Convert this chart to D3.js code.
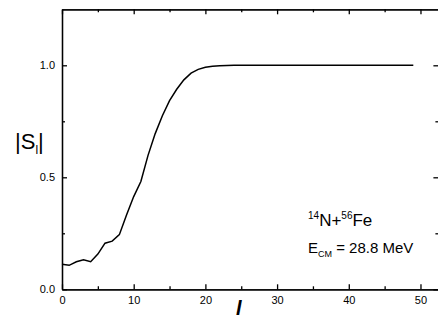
<!DOCTYPE html>
<html>
<head>
<meta charset="utf-8">
<script src="https://cdn.jsdelivr.net/npm/d3@7"></script>
<style>
  body { margin: 0; background: #fff; }
  svg { display: block; font-family: "Liberation Sans", Arial, sans-serif; }
  .axis path, .axis line { stroke: #000; stroke-width: 1.3; }
  .axis text { font-size: 11px; fill: #000; font-family: "Liberation Sans", Arial, sans-serif; }
</style>
</head>
<body>
<svg width="438" height="321"></svg>
<script>
// partial wave l and modulus of S-matrix |S_l|
var lValues = [0, 1, 2, 3, 4, 5, 6, 7, 8, 9, 10, 11, 12, 13, 14, 15, 16, 17, 18, 19,
  20, 21, 22, 23, 24, 25, 26, 27, 28, 29, 30, 31, 32, 33, 34, 35, 36, 37, 38, 39,
  40, 41, 42, 43, 44, 45, 46, 47, 48, 49];
var sValues = [0.112, 0.107, 0.123, 0.132, 0.123, 0.157, 0.206, 0.215, 0.244, 0.332,
  0.414, 0.481, 0.598, 0.695, 0.775, 0.842, 0.893, 0.935, 0.965, 0.982,
  0.991, 0.996, 0.998, 0.999, 1.0, 1.0, 1.0, 1.0, 1.0, 1.0,
  1.0, 1.0, 1.0, 1.0, 1.0, 1.0, 1.0, 1.0, 1.0, 1.0,
  1.0, 1.0, 1.0, 1.0, 1.0, 1.0, 1.0, 1.0, 1.0, 1.0];

var xMajor = [0, 10, 20, 30, 40, 50];
var xMinor = [5, 15, 25, 35, 45];
var yMajor = [0, 0.5, 1.0];
var yMinor = [0.25, 0.75];

var svg = d3.select("svg");
var padL = 62, padT = 9.3, padR = 438.4, padB = 289.3;

var x = d3.scaleLinear().domain([0, 52.5]).range([padL, padR]);
var y = d3.scaleLinear().domain([0, 1.25]).range([padB, padT]);

// frame + major ticks (all pointing inward)
svg.append("g").attr("class", "axis")
  .attr("transform", "translate(0," + padB + ")")
  .call(d3.axisBottom(x).tickValues(xMajor).tickSizeInner(-5).tickSizeOuter(0).tickPadding(7).tickFormat(d3.format("d")));
svg.append("g").attr("class", "axis")
  .attr("transform", "translate(0," + padT + ")")
  .call(d3.axisTop(x).tickValues(xMajor).tickSizeInner(-5).tickSizeOuter(0).tickFormat(""));
svg.append("g").attr("class", "axis")
  .attr("transform", "translate(" + padL + ",0)")
  .call(d3.axisLeft(y).tickValues(yMajor).tickSizeInner(-5).tickSizeOuter(0).tickPadding(7).tickFormat(d3.format(".1f")));
svg.append("g").attr("class", "axis")
  .attr("transform", "translate(" + padR + ",0)")
  .call(d3.axisRight(y).tickValues(yMajor).tickSizeInner(-5).tickSizeOuter(0).tickFormat(""));

// minor ticks
svg.append("g").attr("class", "axis")
  .attr("transform", "translate(0," + padB + ")")
  .call(d3.axisBottom(x).tickValues(xMinor).tickSizeInner(-3).tickSizeOuter(0).tickFormat(""));
svg.append("g").attr("class", "axis")
  .attr("transform", "translate(0," + padT + ")")
  .call(d3.axisTop(x).tickValues(xMinor).tickSizeInner(-3).tickSizeOuter(0).tickFormat(""));
svg.append("g").attr("class", "axis")
  .attr("transform", "translate(" + padL + ",0)")
  .call(d3.axisLeft(y).tickValues(yMinor).tickSizeInner(-3).tickSizeOuter(0).tickFormat(""));
svg.append("g").attr("class", "axis")
  .attr("transform", "translate(" + padR + ",0)")
  .call(d3.axisRight(y).tickValues(yMinor).tickSizeInner(-3).tickSizeOuter(0).tickFormat(""));

// curve
var pts = lValues.map(function(l, i) { return [l, sValues[i]]; });
svg.append("path")
  .datum(pts)
  .attr("fill", "none")
  .attr("stroke", "#000")
  .attr("stroke-width", 1.5)
  .attr("d", d3.line().x(function(d) { return x(d[0]); }).y(function(d) { return y(d[1]); }));

// y label |S_l|
var yl = svg.append("text").attr("x", 15).attr("y", 148.5).attr("font-size", 22);
yl.append("tspan").text("|S");
yl.append("tspan").attr("font-size", 12).attr("dy", 5).text("l");
yl.append("tspan").attr("dy", -5).text("|");

// x label l
svg.append("text").attr("x", 236).attr("y", 315)
  .attr("font-size", 20).attr("font-style", "italic").attr("font-weight", "bold").text("l");

// reaction annotation
var r = svg.append("text").attr("x", 308).attr("y", 226).attr("font-size", 17);
r.append("tspan").attr("font-size", 10).attr("dy", -7).text("14");
r.append("tspan").attr("dy", 7).text("N+");
r.append("tspan").attr("font-size", 10).attr("dy", -7).text("56");
r.append("tspan").attr("dy", 7).text("Fe");

var e = svg.append("text").attr("x", 308).attr("y", 253).attr("font-size", 15);
e.append("tspan").text("E");
e.append("tspan").attr("font-size", 9).attr("dy", 4).text("CM");
e.append("tspan").attr("dy", -4).text(" = 28.8 MeV");
</script>
</body>
</html>
